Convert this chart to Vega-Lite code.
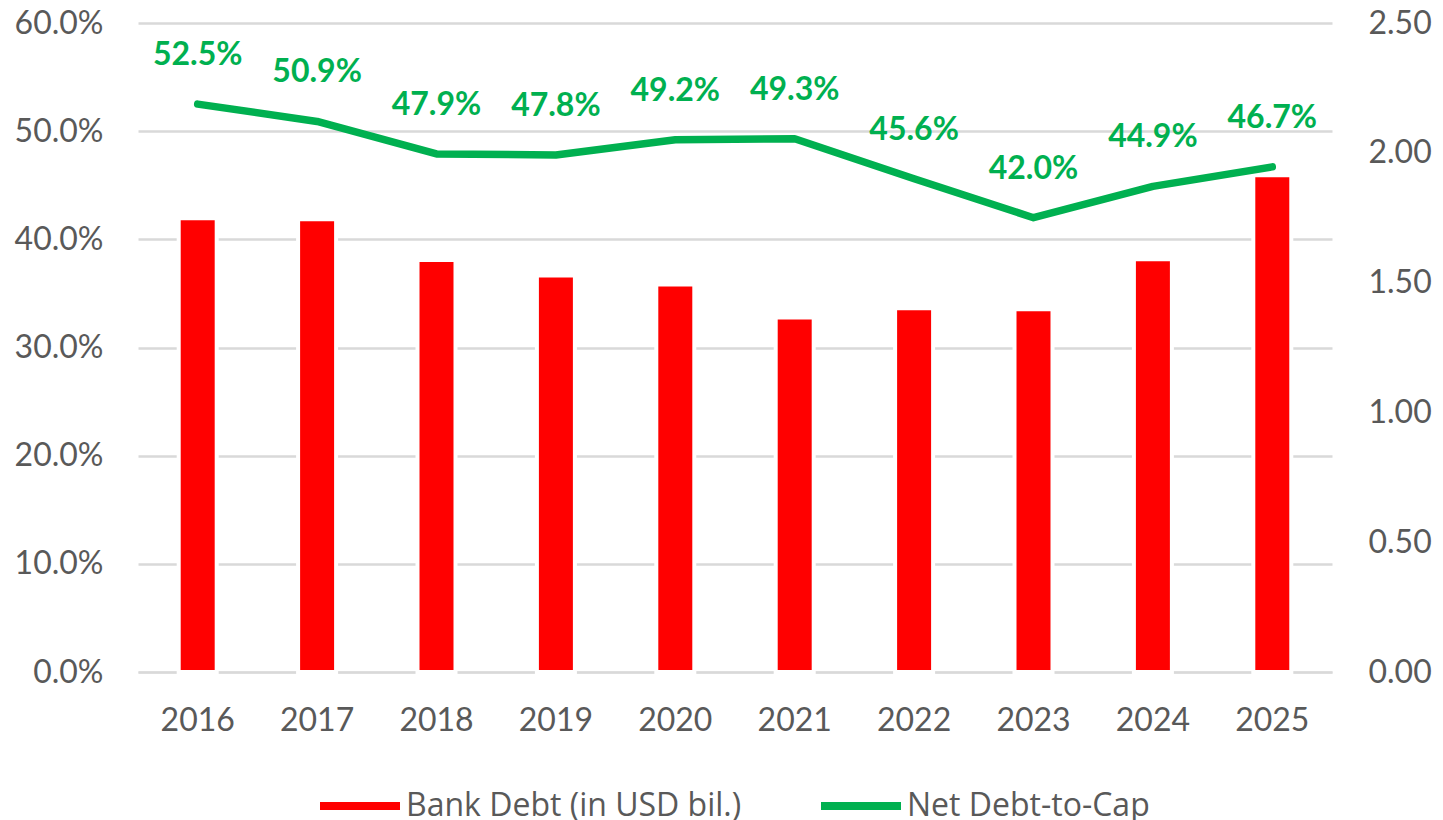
{
  "$schema": "https://vega.github.io/schema/vega-lite/v6.json",
  "autosize": {"type": "none"},
  "width": 1194,
  "height": 649,
  "padding": {"left": 138, "top": 23, "right": 111, "bottom": 148},
  "background": "white",
  "config": {
    "view": {"stroke": null},
    "font": "Lato",
    "axis": {"labelFont": "Lato", "labelColor": "#595959", "labelFontSize": 32, "ticks": false, "title": null},
    "legend": {
      "orient": "none",
      "legendX": 178,
      "legendY": 739,
      "direction": "horizontal",
      "title": null,
      "padding": 0,
      "symbolType": "stroke",
      "symbolSize": 6400,
      "symbolStrokeWidth": 8,
      "labelFont": "Open Sans",
      "labelFontSize": 32,
      "labelColor": "#595959",
      "labelLimit": 0,
      "labelOffset": 2,
      "columnPadding": 63
    }
  },
  "data": {
    "values": [
      {"year": "2016", "bank_debt": 1.748, "ndtc": 0.525},
      {"year": "2017", "bank_debt": 1.744, "ndtc": 0.509},
      {"year": "2018", "bank_debt": 1.587, "ndtc": 0.479},
      {"year": "2019", "bank_debt": 1.527, "ndtc": 0.478},
      {"year": "2020", "bank_debt": 1.493, "ndtc": 0.492},
      {"year": "2021", "bank_debt": 1.366, "ndtc": 0.493},
      {"year": "2022", "bank_debt": 1.401, "ndtc": 0.456},
      {"year": "2023", "bank_debt": 1.397, "ndtc": 0.420},
      {"year": "2024", "bank_debt": 1.590, "ndtc": 0.449},
      {"year": "2025", "bank_debt": 1.914, "ndtc": 0.467}
    ]
  },
  "encoding": {
    "x": {
      "field": "year", "type": "ordinal",
      "scale": {"paddingInner": 0, "paddingOuter": 0},
      "axis": {"labelAngle": 0, "labelPadding": 33, "domain": true, "domainColor": "#d9d9d9", "domainWidth": 2, "grid": false}
    }
  },
  "layer": [
    {
      "mark": {"type": "bar", "color": "#ff0000", "size": 38, "stroke": "white", "strokeWidth": 4},
      "encoding": {
        "y": {
          "field": "bank_debt", "type": "quantitative",
          "scale": {"domain": [0, 2.5], "nice": false, "zero": true},
          "axis": {"orient": "right", "values": [0, 0.5, 1, 1.5, 2, 2.5], "format": ".2f", "grid": false, "domain": false, "labelPadding": 36}
        },
        "color": {
          "datum": "Bank Debt (in USD bil.)",
          "type": "nominal",
          "scale": {"domain": ["Bank Debt (in USD bil.)", "Net Debt-to-Cap"], "range": ["#ff0000", "#00b050"]}
        }
      }
    },
    {
      "encoding": {
        "y": {
          "field": "ndtc", "type": "quantitative",
          "scale": {"domain": [0, 0.6], "nice": false},
          "axis": {"orient": "left", "values": [0, 0.1, 0.2, 0.3, 0.4, 0.5, 0.6], "format": ".1%", "grid": true, "gridColor": "#d9d9d9", "gridWidth": 2.5, "domain": false, "labelPadding": 35}
        }
      },
      "layer": [
        {
          "mark": {"type": "line", "strokeWidth": 7.5, "strokeCap": "round", "strokeJoin": "round"},
          "encoding": {
            "color": {"datum": "Net Debt-to-Cap", "type": "nominal"}
          }
        },
        {
          "mark": {"type": "text", "color": "#00b050", "fontWeight": "bold", "fontSize": 32, "font": "Lato", "dy": -49, "baseline": "middle"},
          "encoding": {
            "text": {"field": "ndtc", "type": "quantitative", "format": ".1%"}
          }
        }
      ]
    }
  ],
  "resolve": {"scale": {"y": "independent"}}
}
